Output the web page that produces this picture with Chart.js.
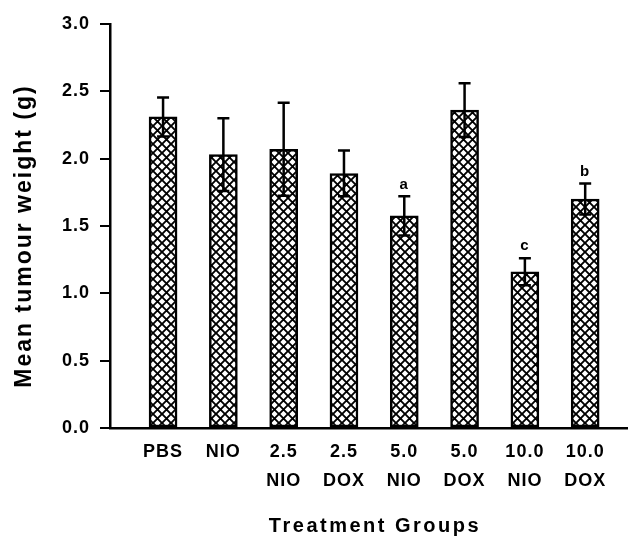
<!DOCTYPE html>
<html>
<head>
<meta charset="utf-8">
<script src="https://cdn.jsdelivr.net/npm/chart.js@4.4.1/dist/chart.umd.min.js"></script>
<style>
  html, body { margin: 0; padding: 0; background: #fff; }
  #wrap { width: 628px; height: 537px; }
</style>
</head>
<body>
<div id="wrap"><canvas id="myChart"></canvas></div>
<script>
'use strict';

// treatment groups (two-line tick labels)
const groups = [['PBS'], ['NIO'], ['2.5', 'NIO'], ['2.5', 'DOX'], ['5.0', 'NIO'], ['5.0', 'DOX'], ['10.0', 'NIO'], ['10.0', 'DOX']];
// mean tumour weight (g)
const means = [2.31, 2.03, 2.07, 1.89, 1.575, 2.36, 1.16, 1.70];
// error (+/-)
const errors = [0.145, 0.27, 0.345, 0.17, 0.145, 0.20, 0.10, 0.115];
// significance letters
const sigLetters = ['', '', '', '', 'a', '', 'c', 'b'];
const yTicks = [0, 0.5, 1.0, 1.5, 2.0, 2.5, 3.0];

const FONT = 'Liberation Sans, Arial, sans-serif';

function crossHatch() {
    const c = document.createElement('canvas');
    c.width = 9;
    c.height = 9;
    const g = c.getContext('2d');
    g.fillStyle = '#fff';
    g.fillRect(0, 0, 9, 9);
    g.strokeStyle = '#000';
    g.lineWidth = 1.9;
    g.beginPath();
    g.moveTo(-1, -1); g.lineTo(10, 10);
    g.moveTo(10, -1); g.lineTo(-1, 10);
    g.stroke();
    return g.createPattern(c, 'repeat');
}

const extras = {
    id: 'extras',
    beforeDraw(chart) {
        chart.ctx.letterSpacing = '1px';
    },
    afterDatasetsDraw(chart) {
        const ctx = chart.ctx;
        const x = chart.scales.x, y = chart.scales.y;
        ctx.save();
        ctx.strokeStyle = '#000';
        ctx.lineWidth = 2.5;
        ctx.fillStyle = '#000';
        ctx.font = 'bold 15px ' + FONT;
        ctx.textAlign = 'center';
        ctx.textBaseline = 'middle';
        means.forEach((m, i) => {
            const px = x.getPixelForValue(i);
            const top = y.getPixelForValue(m + errors[i]);
            const bot = y.getPixelForValue(m - errors[i]);
            ctx.beginPath();
            ctx.moveTo(px, top); ctx.lineTo(px, bot);
            ctx.moveTo(px - 6, top); ctx.lineTo(px + 6, top);
            ctx.moveTo(px - 6, bot); ctx.lineTo(px + 6, bot);
            ctx.stroke();
            if (sigLetters[i]) ctx.fillText(sigLetters[i], px, top - 12);
        });
        ctx.restore();
    },
    afterDraw(chart) {
        const ctx = chart.ctx;
        ctx.save();
        ctx.fillStyle = '#000';
        ctx.textAlign = 'center';
        ctx.textBaseline = 'middle';
        ctx.letterSpacing = '2.5px';
        ctx.font = 'bold 20px ' + FONT;
        ctx.fillText('Treatment Groups', 375, 526);
        ctx.letterSpacing = '2px';
        ctx.translate(25, 236);
        ctx.rotate(-Math.PI / 2);
        ctx.font = 'bold 23px ' + FONT;
        ctx.fillText('Mean tumour weight (g)', 0, 0);
        ctx.restore();
    }
};

Chart.defaults.font.family = FONT;
Chart.defaults.color = '#000';

const ctx = document.getElementById('myChart');
const myChart = new Chart(ctx, {
    type: 'bar',
    data: {
        datasets: [{
            label: 'Mean tumour weight',
            data: means.map((m, i) => ({ x: i, y: m })),
            backgroundColor: crossHatch(),
            borderColor: '#000',
            borderWidth: 2.5,
            borderSkipped: false,
            barThickness: 28
        }]
    },
    options: {
        responsive: true,
        maintainAspectRatio: false,
        animation: false,
        layout: { padding: { top: 24, right: 0, left: 0, bottom: 0 } },
        plugins: {
            legend: { display: false },
            tooltip: { enabled: false }
        },
        scales: {
            x: {
                type: 'linear',
                offset: false,
                min: -0.88,
                max: 7.71,
                afterFit: s => { s.height = 109; },
                afterBuildTicks: s => { s.ticks = groups.map((g, i) => ({ value: i })); },
                grid: { drawOnChartArea: false, drawTicks: false, offset: false },
                border: { color: '#000', width: 2.5 },
                ticks: {
                    padding: 10,
                    autoSkip: false,
                    maxRotation: 0,
                    font: { size: 18, weight: 'bold', lineHeight: 1.6 },
                    callback: v => groups[v]
                }
            },
            y: {
                min: 0,
                max: 3,
                afterFit: s => { s.width = 110; },
                afterBuildTicks: s => { s.ticks = yTicks.map(v => ({ value: v })); },
                grid: { drawOnChartArea: false, drawTicks: true, tickLength: 10, color: '#000', lineWidth: 2 },
                border: { color: '#000', width: 2.5 },
                ticks: {
                    padding: 10,
                    font: { size: 18, weight: 'bold' },
                    callback: v => v.toFixed(1)
                }
            }
        }
    },
    plugins: [extras]
});
</script>
</body>
</html>
